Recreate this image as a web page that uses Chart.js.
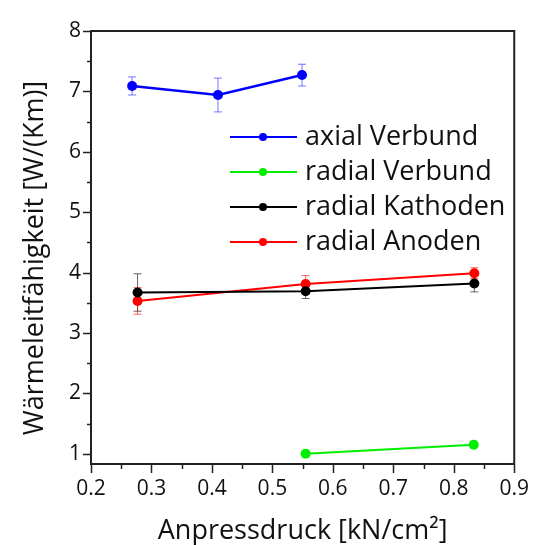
<!DOCTYPE html>
<html>
<head>
<meta charset="utf-8">
<script src="https://cdn.jsdelivr.net/npm/chart.js@4"></script>
<style>
  html, body { margin: 0; padding: 0; background: #fff; }
  #wrap { width: 541px; height: 545px; }
</style>
</head>
<body>
<div id="wrap"><canvas id="chart" width="541" height="545"></canvas></div>
<script>
// Werte
const seriesNames = ['axial Verbund', 'radial Verbund', 'radial Kathoden', 'radial Anoden'];
const seriesColors = ['#0000ff', '#00ee00', '#000000', '#ff0000'];
const errColors = ['rgba(60,60,255,0.7)', 'rgba(0,200,0,0.7)', 'rgba(0,0,0,0.6)', 'rgba(255,0,0,0.6)'];

const axialX = [0.268, 0.41, 0.549];
const axialY = [7.09, 6.94, 7.27];
const axialErr = [0.15, 0.28, 0.18];

const radVerbundX = [0.555, 0.833];
const radVerbundY = [1.0, 1.15];
const radVerbundErr = [0, 0];

const kathodenX = [0.277, 0.555, 0.834];
const kathodenY = [3.67, 3.69, 3.82];
const kathodenErr = [0.31, 0.12, 0.14];

const anodenX = [0.277, 0.555, 0.834];
const anodenY = [3.53, 3.81, 3.99];
const anodenErr = [0.22, 0.14, 0.09];

const xTicks = [0.2, 0.3, 0.4, 0.5, 0.6, 0.7, 0.8, 0.9];
const yTicks = [1, 2, 3, 4, 5, 6, 7, 8];

const xs = [axialX, radVerbundX, kathodenX, anodenX];
const ys = [axialY, radVerbundY, kathodenY, anodenY];
const errs = [axialErr, radVerbundErr, kathodenErr, anodenErr];

const FONT = "'Open Sans', 'DejaVu Sans', sans-serif";

const datasets = seriesNames.map((name, i) => ({
    label: name,
    data: xs[i].map((x, j) => ({ x: x, y: ys[i][j] })),
    errors: errs[i],
    errColor: errColors[i],
    borderColor: seriesColors[i],
    backgroundColor: seriesColors[i],
    borderWidth: i === 0 ? 2.5 : 2,
    pointRadius: 5,
    pointBorderWidth: 0,
    pointHoverRadius: 5,
    tension: 0
}));

// Fehlerbalken, Rahmen, Teilstriche, Legende
const extras = {
    id: 'extras',
    beforeDatasetsDraw(chart) {
        const ctx = chart.ctx;
        const xs = chart.scales.x, ys = chart.scales.y;
        ctx.save();
        chart.data.datasets.forEach(ds => {
            ctx.strokeStyle = ds.errColor;
            ctx.lineWidth = 1;
            ds.data.forEach((p, j) => {
                const e = ds.errors[j];
                if (!e) return;
                const px = xs.getPixelForValue(p.x);
                const top = ys.getPixelForValue(p.y + e);
                const bot = ys.getPixelForValue(p.y - e);
                ctx.beginPath();
                ctx.moveTo(px, top); ctx.lineTo(px, bot);
                ctx.moveTo(px - 4, top); ctx.lineTo(px + 4, top);
                ctx.moveTo(px - 4, bot); ctx.lineTo(px + 4, bot);
                ctx.stroke();
            });
        });
        ctx.restore();
    },
    afterDraw(chart) {
        const ctx = chart.ctx;
        const a = chart.chartArea;
        const xs = chart.scales.x, ys = chart.scales.y;
        ctx.save();
        ctx.strokeStyle = '#222';
        ctx.lineWidth = 2;
        ctx.beginPath();
        ctx.moveTo(a.left, a.top); ctx.lineTo(a.right, a.top); ctx.lineTo(a.right, a.bottom);
        ctx.stroke();

        ctx.lineWidth = 1.5;
        ctx.beginPath();
        for (let v = 0.2; v <= 0.9001; v += 0.05) {
            const px = Math.round(xs.getPixelForValue(v)) + 0.5;
            const major = Math.abs(v * 10 - Math.round(v * 10)) < 0.01;
            ctx.moveTo(px, a.bottom); ctx.lineTo(px, a.bottom + (major ? 9 : 5));
        }
        for (let v = 1; v <= 8.001; v += 0.5) {
            const py = Math.round(ys.getPixelForValue(v)) + 0.5;
            const major = Number.isInteger(v);
            ctx.moveTo(a.left, py); ctx.lineTo(a.left - (major ? 8 : 4), py);
        }
        ctx.stroke();

        // y-Achsentitel
        ctx.translate(35, 258);
        ctx.rotate(-Math.PI / 2);
        ctx.fillStyle = '#111';
        ctx.font = '27px ' + FONT;
        ctx.textAlign = 'center';
        ctx.textBaseline = 'middle';
        ctx.fillText('Wärmeleitfähigkeit [W/(Km)]', 0, 0);
        ctx.setTransform(1, 0, 0, 1, 0, 0);

        // Legende
        const lx = 230, ly = 137, step = 35;
        ctx.font = '27px ' + FONT;
        ctx.textAlign = 'left';
        ctx.textBaseline = 'middle';
        chart.data.datasets.forEach((ds, i) => {
            const y = ly + i * step;
            ctx.strokeStyle = ds.borderColor;
            ctx.lineWidth = 2;
            ctx.beginPath();
            ctx.moveTo(lx, y); ctx.lineTo(lx + 67, y);
            ctx.stroke();
            ctx.fillStyle = ds.borderColor;
            ctx.beginPath();
            ctx.arc(lx + 33, y, 4, 0, Math.PI * 2);
            ctx.fill();
            ctx.fillStyle = '#111';
            ctx.fillText(ds.label, lx + 75, y);
        });
        ctx.restore();
    }
};

new Chart(document.getElementById('chart'), {
    type: 'line',
    data: { datasets: datasets },
    options: {
        responsive: false,
        animation: false,
        events: [],
        layout: { padding: { top: 31, right: 18, left: 0, bottom: 0 } },
        plugins: { legend: { display: false }, tooltip: { enabled: false } },
        scales: {
            x: {
                type: 'linear',
                min: 0.2,
                max: 0.9,
                afterBuildTicks: s => { s.ticks = xTicks.map(v => ({ value: v })); },
                afterFit: s => { s.height = 545 - 464; },
                grid: { display: false, drawTicks: false },
                border: { display: true, color: '#222', width: 2 },
                ticks: {
                    padding: 12,
                    color: '#111',
                    font: { family: FONT, size: 21 },
                    maxRotation: 0,
                    callback: v => v.toFixed(1)
                },
                title: {
                    display: true,
                    text: 'Anpressdruck [kN/cm²]',
                    color: '#111',
                    font: { family: FONT, size: 27, lineHeight: 1 },
                    padding: { top: 0, bottom: 0 }
                }
            },
            y: {
                type: 'linear',
                min: 0.83,
                max: 8,
                afterBuildTicks: s => { s.ticks = yTicks.map(v => ({ value: v })); },
                afterFit: s => { s.width = 91; },
                grid: { display: false, drawTicks: false },
                border: { display: true, color: '#222', width: 2 },
                ticks: {
                    padding: 10,
                    color: '#111',
                    font: { family: FONT, size: 21 },
                    callback: v => String(v)
                }
            }
        }
    },
    plugins: [extras]
});
</script>
</body>
</html>
